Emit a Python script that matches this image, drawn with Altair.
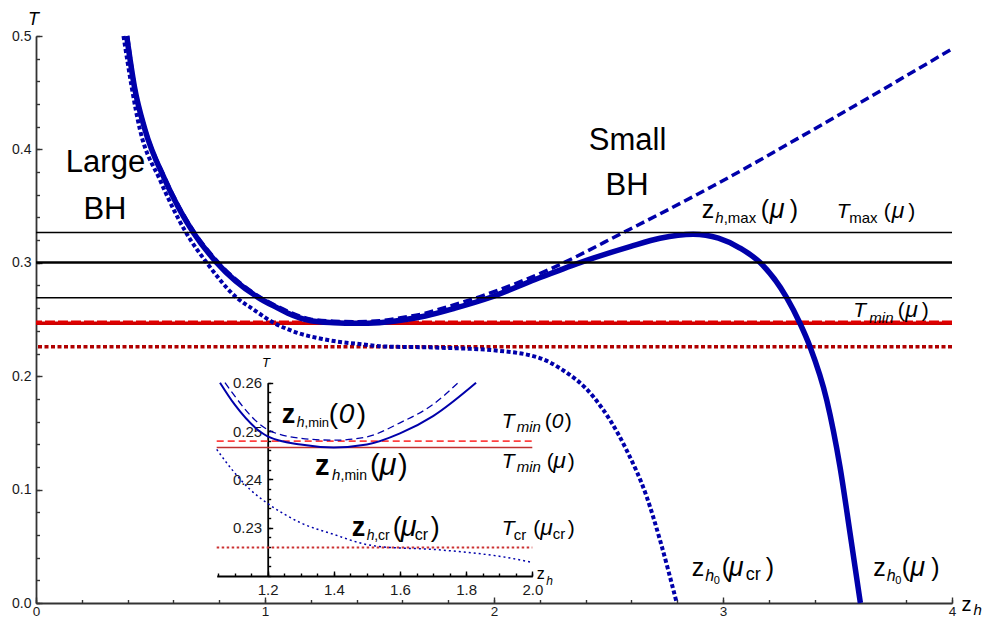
import altair as alt
import pandas as pd

# ---------------- data ----------------
# solid thick curve (mu)
solid_x = [0.396, 0.43, 0.476, 0.563, 0.687, 0.789, 0.971, 1.056, 1.1, 1.2, 1.3, 1.4, 1.5, 1.6, 1.7,
           1.83, 1.98, 2.18, 2.376, 2.594, 2.725, 2.87, 2.98, 3.074, 3.162, 3.278, 3.336, 3.38,
           3.453, 3.511, 3.555, 3.6]
solid_T = [0.5, 0.455, 0.4174, 0.3732, 0.3267, 0.3002, 0.2693, 0.26, 0.2555, 0.2489, 0.2472, 0.2466,
           0.2472, 0.2495, 0.2531, 0.26, 0.2692, 0.2853, 0.3002, 0.3143, 0.3217, 0.3252, 0.3217,
           0.313, 0.3002, 0.2693, 0.2467, 0.226, 0.179, 0.12, 0.0613, 0.0]
# dashed curve (mu = 0)
dashed_x = [0.40, 0.43, 0.476, 0.563, 0.687, 0.789, 0.971, 1.071, 1.2, 1.3, 1.4, 1.5, 1.6, 1.7, 1.776,
            1.939, 2.245, 2.565, 2.958, 3.394, 4.0]
dashed_T = [0.5, 0.457, 0.419, 0.375, 0.3285, 0.302, 0.2708, 0.26, 0.2503, 0.2485, 0.2481, 0.2488,
            0.2517, 0.2555, 0.26, 0.2702, 0.2945, 0.3267, 0.3679, 0.4174, 0.4886]
# dotted curve (mu_cr)
dotted_x = [0.382, 0.454, 0.541, 0.655, 0.745, 0.876, 0.95, 1.046, 1.096, 1.147, 1.2, 1.25, 1.3, 1.4,
            1.5, 1.55, 1.6, 1.7, 1.8, 1.9, 2.0, 2.2, 2.288, 2.434, 2.579, 2.667, 2.725, 2.798]
dotted_T = [0.5, 0.4174, 0.3732, 0.3267, 0.3002, 0.2693, 0.2588, 0.2462, 0.2417, 0.2379, 0.2350,
            0.2328, 0.2310, 0.2286, 0.2265, 0.2260, 0.2258, 0.2255, 0.2249, 0.2241, 0.2228, 0.2160,
            0.2070, 0.1819, 0.1348, 0.0936, 0.0554, 0.0]

# horizontal temperature levels
T_max_mu = 0.3267
T_mid = 0.3002
T_low = 0.2692
T_min_mu = 0.2466
T_min_0 = 0.2479
T_cr = 0.2259

# axes
main_x_domain = [0, 4]
main_y_domain = [0, 0.5]
inset_x_domain = [1.046, 2.0]
inset_y_domain = [0.22, 0.26]
main_x_ticks = [0, 1, 2, 3, 4]
main_y_ticks = [0.0, 0.1, 0.2, 0.3, 0.4, 0.5]
main_x_minor = [round(0.2 * i, 2) for i in range(21)]
main_y_minor = [round(0.02 * i, 2) for i in range(26)]
inset_x_ticks = [1.2, 1.4, 1.6, 1.8, 2.0]
inset_y_ticks = [0.23, 0.24, 0.25, 0.26]
inset_x_minor = [round(1.05 + 0.05 * i, 2) for i in range(20)]
inset_y_minor = [round(0.22 + 0.002 * i, 3) for i in range(21)]

# ---------------- layout ----------------
W, H = 916, 567
FONT = "Liberation Sans"
BLUE = "#0000aa"
INSET_XR = [180.7, 496.3]   # inset placement in the plot (pixels)
INSET_YR = [540, 346.7]
INSET_YAXIS_AT = 231.7

xs = alt.Scale(domain=main_x_domain, nice=False, zero=False)
ys = alt.Scale(domain=main_y_domain, nice=False, zero=False)
ixs = alt.Scale(domain=inset_x_domain, range=INSET_XR, nice=False, zero=False)
iys = alt.Scale(domain=inset_y_domain, range=INSET_YR, nice=False, zero=False)

solid = pd.DataFrame({"x": solid_x, "T": solid_T})
dashed = pd.DataFrame({"x": dashed_x, "T": dashed_T})
dotted = pd.DataFrame({"x": dotted_x, "T": dotted_T})


def curve(df, sx, sy, inset=False, **mk):
    c = alt.Chart(df)
    if inset:
        c = c.transform_filter(
            f"datum.x >= {inset_x_domain[0]} && datum.x <= {inset_x_domain[1]} && datum.T <= {inset_y_domain[1] + 0.0001}")
    return c.mark_line(interpolate="monotone", **mk).encode(
        x=alt.X("x:Q", scale=sx, axis=None), y=alt.Y("T:Q", scale=sy, axis=None))


def hrule(level, **mk):
    return alt.Chart(pd.DataFrame({"T": [level]})).mark_rule(**mk).encode(
        y=alt.Y("T:Q", scale=ys, axis=None))


def inset_hrule(level, **mk):
    df = pd.DataFrame({"T": [level], "x0": [inset_x_domain[0]], "x1": [inset_x_domain[1]]})
    return alt.Chart(df).mark_rule(**mk).encode(
        x=alt.X("x0:Q", scale=ixs, axis=None), x2="x1:Q", y=alt.Y("T:Q", scale=iys, axis=None))


def axis_layer(dom_x, dom_y, sx, sy, ax, ay):
    df = pd.DataFrame({"x": dom_x, "T": dom_y})
    return alt.Chart(df).mark_point(opacity=0).encode(
        x=alt.X("x:Q", scale=sx, axis=ax), y=alt.Y("T:Q", scale=sy, axis=ay))


def label_axis(values, fmt, orient, size, offset=0, color="#333333", width=1.8, pad=4):
    return alt.Axis(values=values, format=fmt, orient=orient, offset=offset, ticks=False,
                    labelFontSize=size, labelFont=FONT, labelColor="#1a1a1a", labelPadding=pad,
                    labelFlush=False, labelOverlap=False, domainColor=color, domainWidth=width,
                    grid=False, title=None)


def tick_axis(values, orient, offset, size, color="#333333", width=1.4):
    return alt.Axis(values=values, orient=orient, offset=offset, labels=False, domain=False,
                    ticks=True, tickSize=size, tickWidth=width, tickColor=color, grid=False, title=None)


# ---------------- annotations (anchor in data units, pieces offset in px) ----------------
N, I, B = "normal", "italic", "bold"
labels = [
    # z_{h,max}(mu)
    (2.907, 0.3394, [("z", 0, 0, 25, N, N), ("h", 13.5, 5, 15, I, N), (",max", 22, 5, 15, N, N),
                     ("(", 59, 0, 25, N, N), ("μ", 68, 0, 27, I, N), (")", 88, 0, 25, N, N)]),
    # T_max(mu)
    (3.4965, 0.3394, [("T", 0, 0, 21, I, N), ("max", 12.5, 5, 15, N, N), ("(", 47, 0, 21, N, N),
                      ("μ", 55, 0, 23, I, N), (")", 71.5, 0, 21, N, N)]),
    # T_min(mu) main
    (3.569, 0.2525, [("T", 0, 0, 21, I, N), ("min", 16, 6.5, 15, I, N), ("(", 44.5, 0, 21, N, N),
                     ("μ", 52, 0, 23, I, N), (")", 68.5, 0, 21, N, N)]),
    # z_{h0}(mu_cr)
    (2.863, 0.0236, [("z", 0, 0, 25, N, N), ("h", 13.5, 5, 16, I, N), ("0", 22, 8, 11, N, N),
                     ("(", 30, 0, 25, N, N), ("μ", 37, 0, 27, I, N), ("cr", 54, 4, 18, N, N),
                     (")", 74, 0, 25, N, N)]),
    # z_{h0}(mu)
    (3.656, 0.0236, [("z", 0, 0, 25, N, N), ("h", 13.5, 5, 16, I, N), ("0", 22, 8, 11, N, N),
                     ("(", 28.5, 0, 25, N, N), ("μ", 37, 0, 27, I, N), (")", 58, 0, 25, N, N)]),
    # inset: z_{h,min}(0)
    (1.073, 0.1584, [("z", 0, 0, 27, N, B), ("h", 15, 4, 14, I, N), (",min", 22.8, 4, 13, N, N),
                     ("(", 47, 0, 28, N, N), ("0", 57, 0, 28, I, N), (")", 75, 0, 28, N, N)]),
    # inset: z_{h,min}(mu)
    (1.2183, 0.1127, [("z", 0, 0, 29, N, B), ("h", 17, 5, 15, I, N), (",min", 25.5, 5, 14, N, N),
                      ("(", 55, 0, 29, N, N), ("μ", 64.5, 0, 31, I, N), (")", 83, 0, 29, N, N)]),
    # inset: T_min(0)
    (2.0336, 0.154, [("T", 0, 0, 21, I, N), ("min", 15, 4, 15, I, N), ("(", 43, 0, 21, N, N),
                     ("0", 50, 0, 21, I, N), (")", 63, 0, 21, N, N)]),
    # inset: T_min(mu)
    (2.0336, 0.1187, [("T", 0, 0, 21, I, N), ("min", 15, 4, 15, I, N), ("(", 45, 0, 21, N, N),
                      ("μ", 51.5, 0, 23, I, N), (")", 66, 0, 21, N, N)]),
    # inset: z_{h,cr}(mu_cr)
    (1.3786, 0.0592, [("z", 0, 0, 27, N, B), ("h", 15, 4, 14, I, N), (",cr", 22.5, 4, 14, N, N),
                      ("(", 41, 0, 27, N, N), ("μ", 49, 0, 29, I, N), ("cr", 63, 4, 16, N, N),
                      (")", 79, 0, 27, N, N)]),
    # inset: T_cr(mu_cr)
    (2.0336, 0.0598, [("T", 0, 0, 21, I, N), ("cr", 12, 5, 15, N, N), ("(", 31.5, 0, 21, N, N),
                      ("μ", 38.5, 0, 23, I, N), ("cr", 51, 4, 15, N, N), (")", 66, 0, 21, N, N)]),
    # axis titles
    (4.042, -0.0073, [("z", 0, 0, 20, N, N), ("h", 12, 3.5, 15, I, N)]),
    (2.1865, 0.0215, [("z", 0, 0, 16, N, N), ("h", 9.5, 6, 12, I, N)]),
]
centered = [
    (0.3035, 0.3805, "Large", 31, N),
    (0.301, 0.3388, "BH", 31, N),
    (2.583, 0.3997, "Small", 31, N),
    (2.581, 0.36, "BH", 31, N),
    (-0.011, 0.5098, "T", 18, I),
    (1.0044, 0.2081, "T", 13, I),
]

text_layers = []
for ax_, at_, pieces in labels:
    for (t, dx, dy, size, style, weight) in pieces:
        df = pd.DataFrame({"x": [ax_], "T": [at_], "t": [t]})
        text_layers.append(
            alt.Chart(df).mark_text(align="left", baseline="alphabetic", dx=dx, dy=dy, fontSize=size,
                                    fontStyle=style, fontWeight=weight, font=FONT, color="black")
            .encode(x=alt.X("x:Q", scale=xs, axis=None), y=alt.Y("T:Q", scale=ys, axis=None), text="t:N"))
for ax_, at_, t, size, style in centered:
    df = pd.DataFrame({"x": [ax_], "T": [at_], "t": [t]})
    text_layers.append(
        alt.Chart(df).mark_text(align="center", baseline="alphabetic", fontSize=size, fontStyle=style,
                                font=FONT, color="black")
        .encode(x=alt.X("x:Q", scale=xs, axis=None), y=alt.Y("T:Q", scale=ys, axis=None), text="t:N"))

# ---------------- main panel ----------------
main_layers = [
    hrule(T_cr, color="#b00000", strokeWidth=3.5, strokeDash=[4, 2.5]),
    hrule(T_min_mu, color="#cc0000", strokeWidth=3.5),
    hrule(T_min_0, color="#e00000", strokeWidth=3, strokeDash=[10, 3]),
    curve(dotted, xs, ys, color=BLUE, strokeWidth=4, strokeDash=[4, 2.5]),
    curve(dashed, xs, ys, color=BLUE, strokeWidth=3.5, strokeDash=[9, 4.5]),
    curve(solid, xs, ys, color=BLUE, strokeWidth=5.5),
    hrule(T_max_mu, color="black", strokeWidth=1.5),
    hrule(T_mid, color="black", strokeWidth=2.5),
    hrule(T_low, color="black", strokeWidth=1.5),
    axis_layer(main_x_domain, main_y_domain, xs, ys,
               label_axis(main_x_ticks, "d", "bottom", 13.5, pad=1),
               label_axis(main_y_ticks, ".1f", "left", 14, pad=5)),
    axis_layer(main_x_domain, main_y_domain, xs, ys,
               tick_axis(main_x_ticks, "top", -H, 6),
               tick_axis(main_y_ticks, "right", -W, 6)),
    axis_layer(main_x_domain, main_y_domain, xs, ys,
               tick_axis(main_x_minor, "top", -H, 3.5),
               tick_axis(main_y_minor, "right", -W, 3.5)),
] + text_layers

main = alt.layer(*main_layers).resolve_axis(x="independent", y="independent")

# ---------------- inset panel ----------------
inset_layers = [
    inset_hrule(T_cr, color="#cc3333", strokeWidth=1.8, strokeDash=[2.5, 2.5]),
    inset_hrule(T_min_mu, color="#c03030", strokeWidth=1.6),
    inset_hrule(T_min_0, color="#ff4040", strokeWidth=1.6, strokeDash=[7, 4]),
    curve(dotted, ixs, iys, inset=True, color=BLUE, strokeWidth=1.5, strokeDash=[2, 3]),
    curve(dashed, ixs, iys, inset=True, color=BLUE, strokeWidth=1.3, strokeDash=[7, 4]),
    curve(solid, ixs, iys, inset=True, color=BLUE, strokeWidth=2),
    axis_layer(inset_x_domain, inset_y_domain, ixs, iys,
               label_axis(inset_x_ticks, ".1f", "bottom", 15, offset=INSET_YR[0] - H, color="black", pad=6),
               label_axis(inset_y_ticks, ".2f", "left", 15, offset=-INSET_YAXIS_AT, color="black", pad=6)),
    axis_layer(inset_x_domain, inset_y_domain, ixs, iys,
               tick_axis(inset_x_ticks, "top", -INSET_YR[0], 5, color="black"),
               tick_axis(inset_y_ticks, "right", -(W - INSET_YAXIS_AT), 5, color="black")),
    axis_layer(inset_x_domain, inset_y_domain, ixs, iys,
               tick_axis(inset_x_minor, "top", -INSET_YR[0], 3, color="black"),
               tick_axis(inset_y_minor, "right", -(W - INSET_YAXIS_AT), 3, color="black")),
]
inset = alt.layer(*inset_layers).resolve_axis(x="independent", y="independent")

chart = (
    alt.layer(main, inset)
    .resolve_scale(x="independent", y="independent")
    .properties(width=W, height=H, autosize=alt.AutoSizeParams(type="none"),
                padding={"left": 28, "top": 28, "right": 33, "bottom": 16})
    .configure_view(stroke=None)
    .configure_axis(grid=False)
)

chart.save("out.html", embed_options={"renderer": "svg", "actions": False})
